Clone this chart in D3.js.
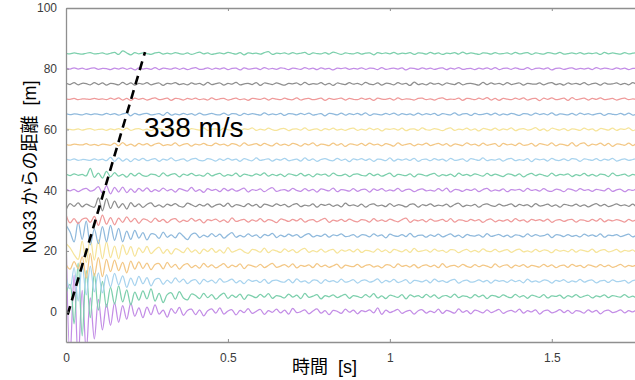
<!DOCTYPE html>
<html>
<head>
<meta charset="utf-8">
<script src="https://cdn.jsdelivr.net/npm/d3@7"></script>
<style>
  body { margin: 0; background: #fff; }
  svg { display: block; }
  text { font-family: "Liberation Sans", Arial, "Noto Sans CJK JP", sans-serif; white-space: pre; }
</style>
</head>
<body>
<svg width="635" height="380"></svg>
<script>
// sampling step of the traces [s]; trace values are offsets in units of 0.1 m
var dt = 0.0125;
var distances = [0, 5, 10, 15, 20, 25, 30, 35, 40, 45, 50, 55, 60, 65, 70, 75, 80, 85];
var lineColors = ["#c38de6", "#7ccfac", "#a8d3ee", "#f3c785", "#f6e49a", "#8fb9dc", "#ef9a9a", "#8e8e8e"];
var xTicks = [0, 0.5, 1, 1.5];
var yTicks = [0, 20, 40, 60, 80, 100];
var velocityLine = [[0.005, -1], [0.244, 85.5]];
var velocityLabel = "338 m/s";

var tr00 = [250,-150,120,-160,70,-130,45,-90,40,-60,25,-45,30,-35,20,-25,28,-15,
  12,-20,15,-10,22,-8,5,-18,10,-6,14,-12,4,8,-10,6,-14,3,
  9,-5,12,-8,2,6,-11,4,-3,10,-6,1,7,-9,3,-2,8,-4,
  5,-8,11,-3,0,6,-7,2,9,-5,3,-10,4,1,-6,8,-2,5,
  -7,3,0,6,-4,12,-9,5,-3,2,7,-6,1,4,-8,3,6,-5,
  2,-3,8,-6,4,0,-5,9,-2,3,-7,5,1,-4,6,-3,2,7,
  -6,1,4,-2,8,-5,3,-1,6,-8,2,5,-4,0,7,-3,4,-6,
  3,1,-5,6,-2,4,-7,2,5,-3,0,6,-4,3,-1,5,-6,2];
var tr05 = [10,40,-90,110,-130,85,-70,75,-45,50,-35,30,-25,35,-18,22,-28,14,
  -12,18,-8,25,-15,10,-20,6,12,-9,16,-5,-11,8,3,-7,10,-4,
  6,-9,2,11,-6,4,-3,8,-10,5,1,-4,7,-2,9,-6,3,0,
  -5,8,-2,4,-7,10,-3,1,6,-8,3,-1,5,-4,2,7,-6,3,
  0,-4,6,-2,9,-5,2,-7,4,1,-3,6,-8,5,-1,3,-4,7,
  -2,5,-6,1,3,-3,8,-4,2,0,-5,6,-1,4,-7,3,2,-3,
  5,-1,-4,7,-2,3,-6,4,1,-3,6,-5,2,0,4,-6,3,-2,
  6,-3,1,4,-5,2,-1,5,-4,3,0,-2,6,-3,1,-5,4,2];
var tr10 = [15,-25,45,-65,55,-45,50,-35,28,-38,22,-18,26,-12,18,-20,10,-14,
  16,-8,12,-15,6,9,-10,4,-6,11,-3,7,-8,2,5,-9,6,-2,
  4,-6,9,-3,1,7,-5,2,-8,5,0,3,-4,6,-7,2,4,-1,
  -3,6,-5,8,-2,1,-6,4,3,-7,5,-1,2,-4,7,-3,0,5,
  -6,2,4,-3,1,8,-5,3,-2,6,-4,0,5,-7,3,1,-2,4,
  -5,7,-1,2,-4,3,6,-6,1,4,-3,-1,5,-2,3,-6,4,0,
  2,-4,5,-1,3,-5,7,-2,1,-3,4,2,-6,3,0,5,-4,1,
  -2,6,-3,2,4,-5,1,3,-4,5,-1,0,3,-6,2,4,-2,1];
var tr15 = [5,-10,15,-8,30,-40,42,-32,28,-35,22,-18,20,-15,12,-22,16,-10,
  14,-8,10,-12,5,8,-9,12,-4,6,-10,3,8,-5,2,-7,9,-3,
  4,-6,1,8,-5,3,-2,7,-8,4,1,-3,6,-5,2,9,-4,0,
  5,-3,7,-6,2,-1,4,-5,8,-2,3,-4,1,6,-7,3,0,-2,
  6,-4,2,5,-3,1,-6,4,3,-5,7,-1,2,-3,5,-6,1,4,
  -2,3,-5,8,-4,1,2,-3,6,-1,-4,5,-2,3,0,-5,7,-3,
  2,4,-6,3,-1,5,-4,2,0,-3,6,-2,4,-5,1,3,-4,6,
  -1,2,-5,4,1,-3,5,-2,3,-4,0,6,-3,2,-1,4,-5,3];
var tr20 = [25,10,-12,-28,32,-38,42,-30,36,-26,30,-22,16,-26,20,-12,14,-18,
  10,-6,15,-9,4,12,-8,5,-11,7,2,-6,10,-4,3,-9,6,-2,
  8,-5,3,-7,11,-4,1,6,-3,-8,5,2,-4,9,-6,3,0,-5,
  7,-2,4,-6,3,8,-5,1,-3,6,-4,2,5,-7,3,-1,4,-3,
  6,-5,2,0,-4,7,-2,3,-6,5,1,-3,4,-5,8,-2,0,3,
  -4,6,-1,2,-5,4,3,-6,1,5,-3,2,-4,7,-1,-2,5,-3,
  1,4,-5,2,6,-3,0,-4,5,-2,3,1,-6,4,-1,2,-3,5,
  -4,3,1,-2,6,-5,2,4,-3,0,5,-4,2,-1,3,-5,4,1];
var tr25 = [35,12,-20,45,-12,48,-30,22,-26,30,-20,34,-15,24,-20,15,-12,18,
  -8,10,-14,6,4,-9,12,-5,3,-7,9,-2,-13,4,8,-6,2,-4,
  7,-3,5,-8,2,10,-5,1,-4,6,-2,3,-7,4,0,8,-6,2,
  -3,5,-1,4,-6,2,7,-4,1,-2,5,-5,3,0,6,-3,-1,4,
  -5,3,2,-4,6,-1,3,-7,5,0,-2,4,-3,8,-4,1,2,-5,
  3,-2,5,-4,1,6,-3,2,-6,4,0,-1,3,-5,7,-2,1,4,
  -3,2,-5,3,1,-4,6,-2,4,-1,0,5,-6,3,2,-3,4,-2,
  1,-4,5,-1,3,-2,6,-5,2,0,4,-3,1,5,-4,2,-1,3];
var tr30 = [20,-8,6,-10,4,8,-6,14,-16,18,-12,10,-14,8,-6,12,-4,7,
  -9,5,2,-6,8,-3,4,-7,3,6,-5,1,-3,7,-2,4,-8,3,
  0,5,-4,2,-6,9,-3,1,4,-5,2,-2,6,-4,3,0,-7,5,
  2,-3,4,-1,6,-5,1,3,-4,2,7,-6,1,-2,4,-3,5,-1,
  -4,3,1,-5,6,-2,2,-3,5,0,-4,3,8,-6,2,-1,3,-4,
  5,-2,0,4,-3,6,-5,2,1,-3,4,-1,3,-6,2,5,-4,1,
  -2,3,-4,6,-1,2,-5,4,0,3,-2,5,-6,1,3,-3,2,4,
  -5,2,1,-3,4,-2,6,-4,2,-1,3,0,-5,4,-2,3,1,-3];
var tr35 = [-15,6,-3,8,-5,4,-2,-6,25,-18,22,-10,14,-8,6,-12,9,-4,
  5,-7,3,8,-4,2,-6,4,-1,6,-3,-5,7,2,-4,3,-2,5,
  -6,1,4,-3,7,-5,2,0,-4,6,-2,3,-7,4,1,-3,5,-1,
  3,-5,2,6,-4,1,-2,5,-6,3,0,4,-3,2,-5,7,-1,2,
  -3,4,-6,2,5,-2,1,-4,6,-3,2,0,-5,3,4,-6,2,-1,
  5,-3,1,-2,4,-5,3,7,-4,1,-2,3,-6,2,5,-1,-3,4,
  -2,1,5,-4,3,-1,2,-5,6,-2,0,4,-3,2,-6,3,1,-2,
  4,-3,2,-5,1,6,-2,3,-4,0,5,-1,2,-3,4,-5,3,1];
var tr40 = [4,-2,3,-5,2,6,-3,1,12,-10,14,-12,9,-6,10,-8,4,-7,
  6,-3,8,-5,2,-4,7,-2,3,-6,5,1,-3,9,-4,2,-7,5,
  -1,3,-5,6,-2,4,-3,1,7,-6,2,-1,4,-5,3,8,-4,0,
  2,-3,6,-1,-4,5,-2,3,-6,4,1,-2,7,-5,2,0,-3,5,
  -4,2,3,-6,4,-1,5,-3,1,-2,6,-4,2,3,-5,1,4,-2,
  0,-3,5,-2,7,-6,2,1,-4,3,-1,4,-5,2,6,-3,1,-2,
  4,-5,2,0,3,-4,6,-1,2,-3,5,-2,-4,3,1,-5,4,2,
  -3,5,-1,2,-4,3,0,-2,6,-4,1,3,-5,2,-1,4,-3,6];
var tr45 = [3,-2,4,-1,2,-3,22,-8,6,-10,12,-6,8,-4,2,-7,5,-3,
  6,-2,-4,3,1,-5,7,-3,2,4,-6,3,-1,5,-2,0,-4,6,
  -3,2,5,-4,1,-2,6,-5,3,0,-3,4,-1,7,-4,2,-2,3,
  -5,4,1,-2,5,-3,2,-6,4,0,3,-4,6,-1,-2,3,-5,2,
  4,-1,-3,5,-2,3,-4,1,6,-5,2,0,-2,4,-6,3,1,-3,
  2,5,-4,1,-2,3,-5,6,-1,2,-3,4,0,-4,5,-2,3,-1,
  -5,3,2,-3,4,-6,1,5,-2,3,-1,-4,6,-3,2,0,4,-5,
  1,-2,5,-3,2,-4,3,1,-5,6,-2,0,3,-4,2,-1,5,-3];
var tr50 = [2,-1,3,-2,1,0,-2,3,-1,2,-3,8,-5,6,-4,3,-6,4,
  -2,5,-3,1,4,-5,2,-1,6,-3,0,3,-4,2,5,-2,-3,4,
  1,-4,3,-2,5,-1,2,-5,4,0,-3,6,-2,1,3,-4,2,-1,
  5,-3,0,2,-4,6,-2,3,-5,1,4,-1,-3,5,-2,2,-6,3,
  0,4,-2,3,-5,2,1,-3,6,-4,2,-1,3,-2,5,-5,1,2,
  -3,4,-1,2,-4,5,-2,0,3,-5,4,1,-2,6,-3,1,-1,3,
  -4,2,5,-3,1,-2,4,-6,3,0,2,-4,5,-1,-2,3,-3,4,
  2,-5,3,1,-2,4,-3,2,-1,5,-4,0,3,-2,1,4,-3,2];
var tr55 = [1,-2,2,0,-1,3,-2,1,-3,2,0,-2,5,-4,7,-3,2,-5,
  4,-1,3,-4,2,5,-3,0,-2,6,-4,1,3,-5,2,-1,4,-2,
  -3,5,-1,2,-4,3,1,-5,6,-2,0,3,-3,4,-1,-4,5,-2,
  2,-3,4,1,-5,3,-1,6,-4,2,0,-3,5,-2,3,-6,2,1,
  -2,4,-3,5,-1,2,-4,3,0,-5,6,-2,1,3,-4,2,-1,5,
  -3,1,4,-2,3,-5,2,0,-3,6,-1,2,-4,5,-2,1,3,-6,
  4,-1,2,-3,5,-2,-1,4,-5,3,1,-2,6,-4,2,0,-3,7,
  -5,3,6,-4,2,-1,5,-3,4,-6,2,1,-2,5,-3,4,-1,2];
var tr60 = [2,0,-1,2,-2,1,3,-2,0,1,-3,2,-1,3,-2,4,-3,1,
  3,-2,1,-4,2,3,-1,-3,4,-2,1,2,-4,3,0,-2,5,-3,
  1,2,-3,4,-1,-2,3,-4,2,0,5,-3,1,-2,4,-1,-3,2,
  3,-4,1,2,-2,5,-3,0,2,-4,3,-1,4,-2,1,-3,2,4,
  -3,1,-2,4,-1,3,-5,2,0,3,-2,4,-4,1,2,-3,5,-1,
  -2,3,0,-4,2,5,-3,1,-1,4,-2,2,-5,3,1,-2,4,-3,
  2,-1,5,-4,1,3,-2,0,6,-3,2,-5,4,1,-2,3,-4,2,
  0,-3,4,-1,2,-5,3,1,-2,4,-3,2,0,5,-4,1,-1,3];
var tr65 = [2,-1,1,0,-2,2,-1,1,0,-2,3,-1,2,-3,1,4,-5,3,
  -2,1,3,-2,0,2,-4,6,-3,1,-2,3,-1,2,-3,4,-2,0,
  3,-1,-2,4,-3,2,1,-4,3,-1,2,0,-3,5,-2,1,-1,3,
  -4,2,1,-2,3,-1,4,-3,0,2,-5,3,1,-2,4,-3,2,-1,
  3,-2,5,-4,1,0,-2,3,-1,4,-3,2,-1,1,-3,4,-2,2,
  -1,3,-4,2,0,-2,5,-3,1,2,-4,3,-1,0,3,-2,4,-3,
  1,-2,3,0,-4,2,1,-3,4,-1,2,-2,5,-3,1,0,-2,3,
  -3,4,-1,2,-2,1,3,-4,2,0,-1,3,-2,4,-3,1,2,-1];
var tr70 = [1,-1,2,-2,1,0,-1,2,-1,1,-2,3,-1,4,-3,2,-4,3,
  -1,2,-3,1,4,-2,0,3,-4,2,1,-3,2,-1,3,-2,1,-3,
  4,-2,1,2,-3,0,3,-2,1,-4,2,1,-1,3,-3,2,0,-2,
  3,-1,-2,4,-3,1,2,-2,0,3,-4,2,-1,1,3,-3,2,-1,
  -2,3,-1,2,-4,3,0,-1,2,-3,4,-2,1,0,-3,2,3,-2,
  1,-3,2,4,-2,0,-1,3,-4,2,1,-2,3,-1,5,-3,2,-4,
  2,0,-2,3,-1,4,-3,1,2,-5,3,-1,4,-2,0,3,-4,5,
  -2,1,3,-3,2,-1,4,-2,0,2,-3,1,3,-2,1,-1,2,0];
var tr75 = [3,-2,4,-3,2,1,-3,4,-2,3,-4,2,0,-3,5,-2,3,-4,
  2,-1,4,-3,1,3,-5,2,0,4,-2,1,-3,3,-1,2,-4,5,
  -2,1,3,-4,2,-1,5,-3,0,2,-2,4,-5,3,1,-2,3,-1,
  -4,2,0,3,-3,5,-2,1,-1,4,-3,2,-5,3,0,-2,4,-1,
  2,-3,5,-1,-2,3,-4,2,1,-3,4,-1,2,-5,6,-2,1,-3,
  3,-1,2,-4,3,0,-2,4,-3,1,2,-1,-4,5,-2,3,-1,2,
  -3,4,-2,1,3,-4,2,0,-1,3,-3,2,4,-2,1,-4,3,-1,
  2,-2,4,-3,1,2,-4,3,-1,0,3,-2,2,-3,4,-1,1,-2];
var tr80 = [2,-1,3,-1,2,-2,1,3,-2,1,0,-3,2,-1,3,-2,2,-4,
  3,-1,1,-2,4,-3,2,0,-1,3,-2,2,-3,1,4,-2,-1,3,
  -2,2,-1,3,-3,1,2,-4,3,-1,0,2,-3,4,-1,1,-2,3,
  1,-3,2,0,-2,4,-1,2,-3,3,-1,1,-4,2,0,3,-2,1,
  -1,3,-2,2,1,-3,4,-2,0,2,-1,3,-4,2,1,-2,3,-1,
  2,-2,1,3,-3,2,-1,4,-2,0,1,-3,2,-1,3,-2,4,-3,
  1,2,-2,3,-1,-2,4,-3,1,2,-1,3,-4,1,2,-2,1,3,
  -2,1,-1,2,-3,4,-1,2,0,-2,3,-1,2,-3,1,0,-2,4];
var tr85 = [1,-1,2,0,-2,1,3,-1,0,2,-2,1,4,-3,9,2,-4,3,
  -1,2,0,-3,2,4,-2,1,-1,3,0,-2,2,-3,1,5,-1,2,
  -3,0,2,-1,4,1,-2,3,-4,2,0,1,-2,3,6,-3,1,0,
  2,-2,3,-1,1,4,-3,2,0,-1,3,-2,5,1,-3,2,0,-1,
  3,-2,1,2,-4,3,0,2,-1,4,-2,1,0,3,-3,2,1,-2,
  4,-1,2,-3,1,0,3,-2,5,-1,2,0,-3,2,1,-2,3,-1,
  0,2,-2,4,-1,1,3,-3,2,0,-2,3,1,-1,4,-2,0,2,
  -1,3,-2,1,0,2,-3,4,-1,2,0,-2,3,-1,1,2,-2,0];
var traces = [tr00, tr05, tr10, tr15, tr20, tr25, tr30, tr35, tr40,
              tr45, tr50, tr55, tr60, tr65, tr70, tr75, tr80, tr85];

var svg = d3.select('svg');
var x = d3.scaleLinear().domain([0, 1.76]).range([66, 636]);
var y = d3.scaleLinear().domain([-10, 100]).range([342, 8]);

svg.append('clipPath')
  .attr('id', 'plot-clip')
  .append('rect')
    .attr('x', 66).attr('y', 8)
    .attr('width', 570).attr('height', 334);

var plot = svg.append('g').attr('clip-path', 'url(#plot-clip)');

traces.forEach(function(tr, k) {
  var d0 = distances[k];
  var line = d3.line()
    .x(function(v, i) { return x(i * dt); })
    .y(function(v) { return y(d0 + v / 10); })
    .curve(d3.curveCatmullRom);
  plot.append('path')
    .datum(tr)
    .attr('d', line)
    .attr('fill', 'none')
    .attr('stroke', lineColors[k % lineColors.length])
    .attr('stroke-width', 1.25);
});

// axes, ticks point inwards
var axisColor = '#8f8f8f';
var gx = svg.append('g')
  .attr('transform', 'translate(0,342)')
  .call(d3.axisBottom(x).tickValues(xTicks).tickSizeInner(-3).tickSizeOuter(0)
        .tickPadding(11).tickFormat(d3.format('~g')));
var gTop = svg.append('g')
  .attr('transform', 'translate(0,8)')
  .call(d3.axisTop(x).tickValues(xTicks).tickSizeInner(-3).tickSizeOuter(0).tickFormat(''));
var gy = svg.append('g')
  .attr('transform', 'translate(66,0)')
  .call(d3.axisLeft(y).tickValues(yTicks).tickSizeInner(-3).tickSizeOuter(0).tickPadding(9));

[gx, gTop, gy].forEach(function(g) {
  g.select('.domain').attr('stroke', axisColor).attr('stroke-width', 1.3);
  g.selectAll('.tick line').attr('stroke', axisColor);
  g.selectAll('.tick text')
    .attr('fill', '#3c3c3c')
    .style('font-size', '12px')
    .style('font-family', '"Liberation Sans", Arial, sans-serif');
});

// sound speed line
plot.append('path')
  .datum(velocityLine)
  .attr('d', d3.line().x(function(d) { return x(d[0]); }).y(function(d) { return y(d[1]); }))
  .attr('stroke', '#000')
  .attr('stroke-width', 2.6)
  .attr('stroke-dasharray', '9,6')
  .attr('fill', 'none');

svg.append('text')
  .attr('x', 144)
  .attr('y', 137)
  .style('font-size', '28px')
  .attr('fill', '#000')
  .text(velocityLabel);

svg.append('text')
  .attr('transform', 'translate(36,167) rotate(-90)')
  .attr('text-anchor', 'middle')
  .style('font-size', '18px')
  .attr('fill', '#000')
  .text('No33 からの距離\u00a0\u00a0[m]');

svg.append('text')
  .attr('x', 292)
  .attr('y', 373)
  .style('font-size', '18px')
  .attr('fill', '#000')
  .text('時間\u00a0\u00a0[s]');
</script>
</body>
</html>
